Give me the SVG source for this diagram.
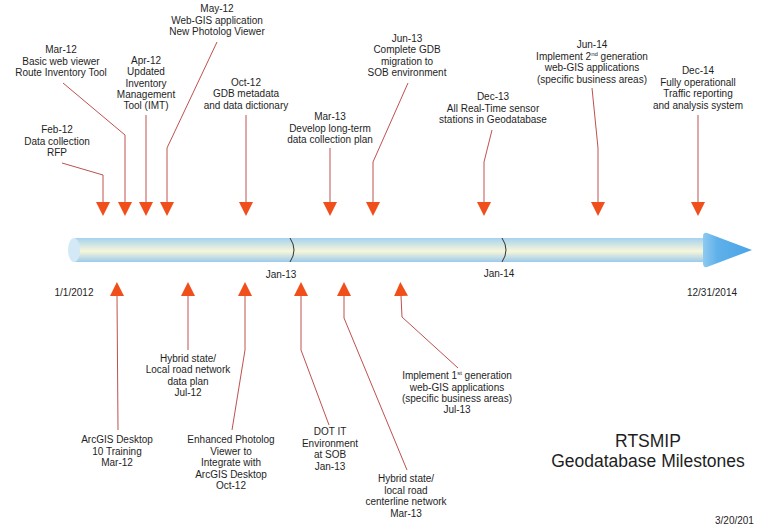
<svg xmlns="http://www.w3.org/2000/svg" width="761" height="531" viewBox="0 0 761 531">
<defs>
<style>
text{font-family:"Liberation Sans",Arial,sans-serif;font-size:10px;fill:#1e1e1e;text-anchor:middle}
.title{font-size:17.5px}
.sup{font-size:6px}
.conn{fill:none;stroke:#c0504d;stroke-width:1;marker-end:url(#tri)}
.div{fill:none;stroke:#333;stroke-width:1}
</style>
<marker id="tri" markerUnits="userSpaceOnUse" markerWidth="14" markerHeight="14" viewBox="0 0 13 13" refX="0" refY="6.5" orient="auto">
<path d="M0,0 L13,6.5 L0,13 Z" fill="#f04e1a"/>
</marker>
<linearGradient id="barGrad" x1="0" y1="0" x2="0" y2="1">
<stop offset="0" stop-color="#a6d2ef"/>
<stop offset="0.55" stop-color="#f8f6da"/>
<stop offset="1" stop-color="#9ccbec"/>
</linearGradient>
<linearGradient id="headGrad" x1="0" y1="0" x2="1" y2="0">
<stop offset="0" stop-color="#8ecaf0"/>
<stop offset="0.3" stop-color="#5eb0e9"/>
<stop offset="1" stop-color="#4aa4e6"/>
</linearGradient>
</defs>

<g id="timeline">
<rect x="74" y="238" width="634" height="24" fill="url(#barGrad)"/>
<ellipse cx="74" cy="250" rx="6" ry="12" fill="#d4e9f6"/>
<path d="M707,233 Q703,232 703,237 L703,263 Q703,268 707,267 L752,250 Z" fill="url(#headGrad)"/>
<path class="div" d="M290,238 Q298,250 290,262"/>
<path class="div" d="M502,238 Q510,250 502,262"/>
<text x="281" y="278">Jan-13</text>
<text x="499" y="277">Jan-14</text>
<text x="74" y="296">1/1/2012</text>
<text x="712" y="296">12/31/2014</text>
</g>

<g id="connectors">
<polyline class="conn" points="62,163 103,175 103,202"/>
<polyline class="conn" points="63,83 125,135 125,202"/>
<polyline class="conn" points="146,115 146,202"/>
<polyline class="conn" points="217,42 167,148 167,202"/>
<polyline class="conn" points="246,115 246,202"/>
<polyline class="conn" points="330,148 330,202"/>
<polyline class="conn" points="408,83 373,162 373,202"/>
<polyline class="conn" points="492,130 484,162 484,202"/>
<polyline class="conn" points="592,88 598,148 598,202"/>
<polyline class="conn" points="698,115 698,202"/>
<polyline class="conn" points="118,430 117,296"/>
<polyline class="conn" points="188,350 188,296"/>
<polyline class="conn" points="232,430 245,350 245,296"/>
<polyline class="conn" points="329,425 301,350 301,296"/>
<polyline class="conn" points="407,470 344,318 344,296"/>
<polyline class="conn" points="458,368 402,317 401,296"/>
</g>

<g id="feb12"><text x="57" y="133">Feb-12</text><text x="57" y="144.5">Data collection</text><text x="57" y="156">RFP</text></g>
<g id="mar12-top"><text x="61" y="53">Mar-12</text><text x="61" y="64.5">Basic web viewer</text><text x="61" y="76">Route Inventory Tool</text></g>
<g id="apr12"><text x="146" y="64">Apr-12</text><text x="146" y="75">Updated</text><text x="146" y="86.5">Inventory</text><text x="146" y="97.5">Management</text><text x="146" y="108.5">Tool (IMT)</text></g>
<g id="may12"><text x="217" y="12">May-12</text><text x="217" y="23.5">Web-GIS application</text><text x="217" y="35">New Photolog Viewer</text></g>
<g id="oct12-top"><text x="246" y="85.5">Oct-12</text><text x="246" y="97">GDB metadata</text><text x="246" y="108.5">and data dictionary</text></g>
<g id="mar13-top"><text x="330" y="120">Mar-13</text><text x="330" y="131.5">Develop long-term</text><text x="330" y="143">data collection plan</text></g>
<g id="jun13"><text x="407" y="41.5">Jun-13</text><text x="407" y="53">Complete GDB</text><text x="407" y="64.5">migration to</text><text x="407" y="76">SOB environment</text></g>
<g id="dec13"><text x="493" y="100">Dec-13</text><text x="493" y="111.5">All Real-Time sensor</text><text x="493" y="123">stations in Geodatabase</text></g>
<g id="jun14"><text x="592" y="48">Jun-14</text><text x="592" y="59.5">Implement 2<tspan class="sup" dy="-4">nd</tspan><tspan dy="4"> generation</tspan></text><text x="592" y="71">web-GIS applications</text><text x="592" y="82.5">(specific business areas)</text></g>
<g id="dec14"><text x="698" y="74">Dec-14</text><text x="698" y="85.5">Fully operationall</text><text x="698" y="97">Traffic reporting</text><text x="698" y="108.5">and analysis system</text></g>

<g id="mar12-bottom"><text x="117" y="443">ArcGIS Desktop</text><text x="117" y="454.5">10 Training</text><text x="117" y="466">Mar-12</text></g>
<g id="jul12"><text x="188" y="361.5">Hybrid state/</text><text x="188" y="373">Local road network</text><text x="188" y="384.5">data plan</text><text x="188" y="396">Jul-12</text></g>
<g id="oct12-bottom"><text x="231" y="443">Enhanced Photolog</text><text x="231" y="454.5">Viewer to</text><text x="231" y="466">Integrate with</text><text x="231" y="477.5">ArcGIS Desktop</text><text x="231" y="489">Oct-12</text></g>
<g id="jan13"><text x="330" y="435">DOT IT</text><text x="330" y="446.5">Environment</text><text x="330" y="458">at SOB</text><text x="330" y="469.5">Jan-13</text></g>
<g id="mar13-bottom"><text x="406" y="482">Hybrid state/</text><text x="406" y="493.5">local road</text><text x="406" y="505">centerline network</text><text x="406" y="516.5">Mar-13</text></g>
<g id="jul13"><text x="457" y="379">Implement 1<tspan class="sup" dy="-4">st</tspan><tspan dy="4"> generation</tspan></text><text x="457" y="390.5">web-GIS applications</text><text x="457" y="402">(specific business areas)</text><text x="457" y="413">Jul-13</text></g>

<g id="title"><text class="title" x="648" y="447">RTSMIP</text><text class="title" x="648" y="467">Geodatabase Milestones</text></g>
<g id="date"><text x="715" y="524" style="text-anchor:start">3/20/201</text></g>
</svg>
